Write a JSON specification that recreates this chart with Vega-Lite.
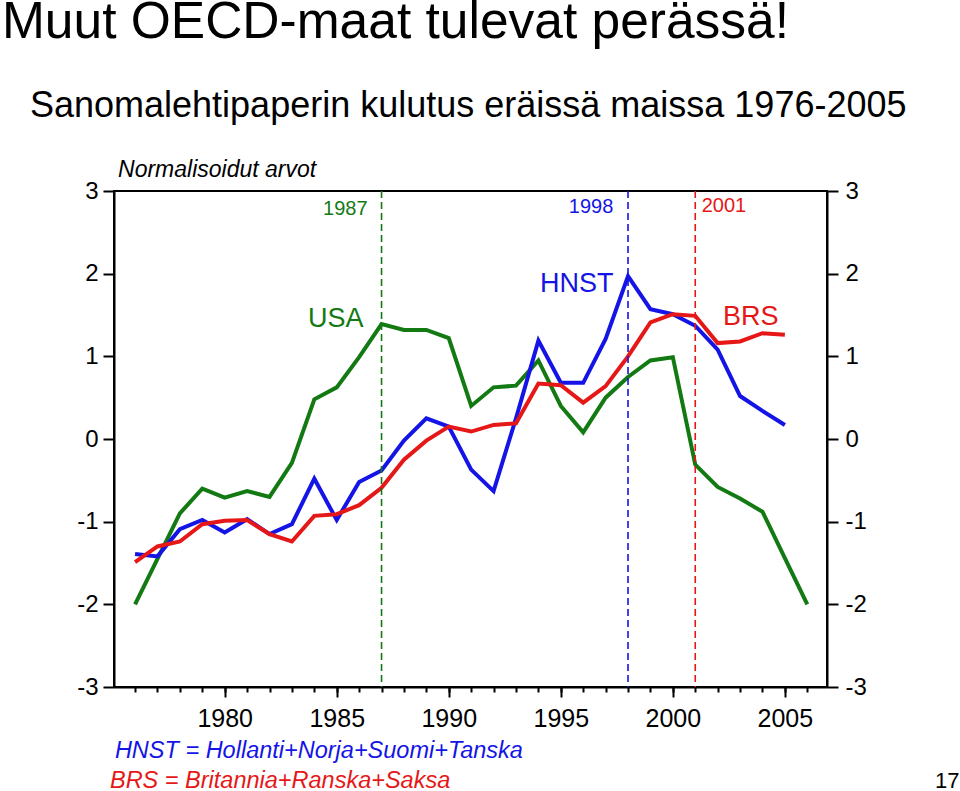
{
  "$schema": "https://vega.github.io/schema/vega-lite/v6.json",
  "width": 713,
  "height": 496,
  "autosize": {"type": "none"},
  "padding": {"left": 114, "top": 191, "right": 133, "bottom": 104},
  "background": "white",
  "config": {
    "view": {"stroke": "black", "strokeWidth": 2},
    "font": "Liberation Sans",
    "axis": {"grid": false, "domainColor": "black", "domainWidth": 2, "tickColor": "black", "tickWidth": 2, "labelColor": "black", "labelFont": "Liberation Sans", "title": null}
  },
  "datasets": {
    "series": [
      {"series": "USA", "year": 1976, "value": -2.0}, {"series": "USA", "year": 1977, "value": -1.45}, {"series": "USA", "year": 1978, "value": -0.9}, {"series": "USA", "year": 1979, "value": -0.6}, {"series": "USA", "year": 1980, "value": -0.71}, {"series": "USA", "year": 1981, "value": -0.63}, {"series": "USA", "year": 1982, "value": -0.7}, {"series": "USA", "year": 1983, "value": -0.29}, {"series": "USA", "year": 1984, "value": 0.48}, {"series": "USA", "year": 1985, "value": 0.625}, {"series": "USA", "year": 1986, "value": 0.99}, {"series": "USA", "year": 1987, "value": 1.39}, {"series": "USA", "year": 1988, "value": 1.32}, {"series": "USA", "year": 1989, "value": 1.32}, {"series": "USA", "year": 1990, "value": 1.22}, {"series": "USA", "year": 1991, "value": 0.4}, {"series": "USA", "year": 1992, "value": 0.625}, {"series": "USA", "year": 1993, "value": 0.645}, {"series": "USA", "year": 1994, "value": 0.95}, {"series": "USA", "year": 1995, "value": 0.4}, {"series": "USA", "year": 1996, "value": 0.08}, {"series": "USA", "year": 1997, "value": 0.5}, {"series": "USA", "year": 1998, "value": 0.75}, {"series": "USA", "year": 1999, "value": 0.95}, {"series": "USA", "year": 2000, "value": 0.99}, {"series": "USA", "year": 2001, "value": -0.31}, {"series": "USA", "year": 2002, "value": -0.58}, {"series": "USA", "year": 2003, "value": -0.72}, {"series": "USA", "year": 2004, "value": -0.88}, {"series": "USA", "year": 2005, "value": -1.44}, {"series": "USA", "year": 2006, "value": -2.0},
      {"series": "HNST", "year": 1976, "value": -1.39}, {"series": "HNST", "year": 1977, "value": -1.42}, {"series": "HNST", "year": 1978, "value": -1.09}, {"series": "HNST", "year": 1979, "value": -0.98}, {"series": "HNST", "year": 1980, "value": -1.13}, {"series": "HNST", "year": 1981, "value": -0.97}, {"series": "HNST", "year": 1982, "value": -1.15}, {"series": "HNST", "year": 1983, "value": -1.03}, {"series": "HNST", "year": 1984, "value": -0.48}, {"series": "HNST", "year": 1985, "value": -0.98}, {"series": "HNST", "year": 1986, "value": -0.52}, {"series": "HNST", "year": 1987, "value": -0.38}, {"series": "HNST", "year": 1988, "value": -0.02}, {"series": "HNST", "year": 1989, "value": 0.25}, {"series": "HNST", "year": 1990, "value": 0.15}, {"series": "HNST", "year": 1991, "value": -0.37}, {"series": "HNST", "year": 1992, "value": -0.63}, {"series": "HNST", "year": 1993, "value": 0.25}, {"series": "HNST", "year": 1994, "value": 1.19}, {"series": "HNST", "year": 1995, "value": 0.68}, {"series": "HNST", "year": 1996, "value": 0.68}, {"series": "HNST", "year": 1997, "value": 1.21}, {"series": "HNST", "year": 1998, "value": 1.97}, {"series": "HNST", "year": 1999, "value": 1.57}, {"series": "HNST", "year": 2000, "value": 1.51}, {"series": "HNST", "year": 2001, "value": 1.37}, {"series": "HNST", "year": 2002, "value": 1.08}, {"series": "HNST", "year": 2003, "value": 0.52}, {"series": "HNST", "year": 2004, "value": 0.34}, {"series": "HNST", "year": 2005, "value": 0.17},
      {"series": "BRS", "year": 1976, "value": -1.49}, {"series": "BRS", "year": 1977, "value": -1.3}, {"series": "BRS", "year": 1978, "value": -1.24}, {"series": "BRS", "year": 1979, "value": -1.03}, {"series": "BRS", "year": 1980, "value": -0.99}, {"series": "BRS", "year": 1981, "value": -0.98}, {"series": "BRS", "year": 1982, "value": -1.15}, {"series": "BRS", "year": 1983, "value": -1.24}, {"series": "BRS", "year": 1984, "value": -0.93}, {"series": "BRS", "year": 1985, "value": -0.91}, {"series": "BRS", "year": 1986, "value": -0.8}, {"series": "BRS", "year": 1987, "value": -0.59}, {"series": "BRS", "year": 1988, "value": -0.25}, {"series": "BRS", "year": 1989, "value": -0.02}, {"series": "BRS", "year": 1990, "value": 0.15}, {"series": "BRS", "year": 1991, "value": 0.09}, {"series": "BRS", "year": 1992, "value": 0.17}, {"series": "BRS", "year": 1993, "value": 0.19}, {"series": "BRS", "year": 1994, "value": 0.67}, {"series": "BRS", "year": 1995, "value": 0.65}, {"series": "BRS", "year": 1996, "value": 0.44}, {"series": "BRS", "year": 1997, "value": 0.64}, {"series": "BRS", "year": 1998, "value": 1.0}, {"series": "BRS", "year": 1999, "value": 1.41}, {"series": "BRS", "year": 2000, "value": 1.51}, {"series": "BRS", "year": 2001, "value": 1.49}, {"series": "BRS", "year": 2002, "value": 1.16}, {"series": "BRS", "year": 2003, "value": 1.18}, {"series": "BRS", "year": 2004, "value": 1.28}, {"series": "BRS", "year": 2005, "value": 1.26}
    ],
    "vlines": [
      {"series": "USA", "year": 1987},
      {"series": "HNST", "year": 1998},
      {"series": "BRS", "year": 2001}
    ],
    "serieslabels": [
      {"series": "USA", "year": 1983.72, "value": 1.351, "text": "USA"},
      {"series": "HNST", "year": 1994.07, "value": 1.775, "text": "HNST"},
      {"series": "BRS", "year": 2002.24, "value": 1.375, "text": "BRS"}
    ],
    "yearlabels": [
      {"series": "USA", "year": 1984.39, "value": 2.706, "text": "1987"},
      {"series": "HNST", "year": 1995.36, "value": 2.73, "text": "1998"},
      {"series": "BRS", "year": 2001.29, "value": 2.743, "text": "2001"}
    ],
    "maintitle": [{"year": 1970.06, "value": 4.847, "text": "Muut OECD-maat tulevat perässä!"}],
    "subtitle": [{"year": 1971.31, "value": 3.891, "text": "Sanomalehtipaperin kulutus eräissä maissa 1976-2005"}],
    "unitnote": [{"year": 1975.24, "value": 3.166, "text": "Normalisoidut arvot"}],
    "notehnst": [{"year": 1975.1, "value": -3.862, "text": "HNST = Hollanti+Norja+Suomi+Tanska"}],
    "notebrs": [{"year": 1974.88, "value": -4.225, "text": "BRS = Britannia+Ranska+Saksa"}],
    "pagenum": [{"year": 2011.7, "value": -4.225, "text": "17"}]
  },
  "layer": [
    {
      "data": {"name": "series"},
      "mark": {"type": "line", "strokeWidth": 4, "strokeJoin": "miter"},
      "encoding": {
        "x": {"field": "year", "type": "quantitative", "scale": {"domain": [1975.06, 2006.88], "nice": false, "zero": false},
              "axis": {"orient": "bottom", "values": [1980, 1985, 1990, 1995, 2000, 2005], "format": "d", "tickSize": 10, "labelFontSize": 25, "labelPadding": 9, "domain": true}},
        "y": {"field": "value", "type": "quantitative", "scale": {"domain": [-3, 3], "nice": false, "zero": false},
              "axis": {"orient": "left", "values": [-3, -2, -1, 0, 1, 2, 3], "tickSize": 11, "labelFontSize": 24, "labelPadding": 5,
                       "labelExpr": "datum.value < 0 ? '-' + abs(datum.value) : '' + datum.value"}},
        "color": {"field": "series", "type": "nominal", "scale": {"domain": ["USA", "HNST", "BRS"], "range": ["#137a13", "#1414e6", "#e61717"]}, "legend": null},
        "detail": {"field": "series"}
      }
    },
    {
      "data": {"name": "vlines"},
      "mark": {"type": "rule", "strokeDash": [7, 4], "strokeWidth": 1.6},
      "encoding": {
        "x": {"field": "year", "type": "quantitative",
              "axis": {"orient": "bottom", "values": [1976, 1977, 1978, 1979, 1980, 1981, 1982, 1983, 1984, 1985, 1986, 1987, 1988, 1989, 1990, 1991, 1992, 1993, 1994, 1995, 1996, 1997, 1998, 1999, 2000, 2001, 2002, 2003, 2004, 2005, 2006], "tickSize": 5, "labels": false, "domain": false}},
        "color": {"field": "series", "type": "nominal", "legend": null}
      }
    },
    {
      "data": {"name": "serieslabels"},
      "mark": {"type": "text", "fontSize": 27, "align": "left", "baseline": "alphabetic"},
      "encoding": {
        "x": {"field": "year", "type": "quantitative", "axis": null},
        "y": {"field": "value", "type": "quantitative",
              "axis": {"orient": "right", "values": [-3, -2, -1, 0, 1, 2, 3], "tickSize": 11, "labelFontSize": 24, "labelPadding": 7,
                       "labelExpr": "datum.value < 0 ? '-' + abs(datum.value) : '' + datum.value"}},
        "text": {"field": "text"},
        "color": {"field": "series", "type": "nominal", "legend": null}
      }
    },
    {
      "data": {"name": "yearlabels"},
      "mark": {"type": "text", "fontSize": 20, "align": "left", "baseline": "alphabetic"},
      "encoding": {
        "x": {"field": "year", "type": "quantitative", "axis": null},
        "y": {"field": "value", "type": "quantitative", "axis": null},
        "text": {"field": "text"},
        "color": {"field": "series", "type": "nominal", "legend": null}
      }
    },
    {
      "data": {"name": "maintitle"},
      "mark": {"type": "text", "fontSize": 51.5, "align": "left", "baseline": "alphabetic", "color": "black"},
      "encoding": {
        "x": {"field": "year", "type": "quantitative", "axis": null},
        "y": {"field": "value", "type": "quantitative", "axis": null},
        "text": {"field": "text"}
      }
    },
    {
      "data": {"name": "subtitle"},
      "mark": {"type": "text", "fontSize": 36, "align": "left", "baseline": "alphabetic", "color": "black"},
      "encoding": {
        "x": {"field": "year", "type": "quantitative", "axis": null},
        "y": {"field": "value", "type": "quantitative", "axis": null},
        "text": {"field": "text"}
      }
    },
    {
      "data": {"name": "unitnote"},
      "mark": {"type": "text", "fontSize": 23, "fontStyle": "italic", "align": "left", "baseline": "alphabetic", "color": "black"},
      "encoding": {
        "x": {"field": "year", "type": "quantitative", "axis": null},
        "y": {"field": "value", "type": "quantitative", "axis": null},
        "text": {"field": "text"}
      }
    },
    {
      "data": {"name": "notehnst"},
      "mark": {"type": "text", "fontSize": 23.5, "fontStyle": "italic", "align": "left", "baseline": "alphabetic", "color": "#1414e6"},
      "encoding": {
        "x": {"field": "year", "type": "quantitative", "axis": null},
        "y": {"field": "value", "type": "quantitative", "axis": null},
        "text": {"field": "text"}
      }
    },
    {
      "data": {"name": "notebrs"},
      "mark": {"type": "text", "fontSize": 23.5, "fontStyle": "italic", "align": "left", "baseline": "alphabetic", "color": "#e61717"},
      "encoding": {
        "x": {"field": "year", "type": "quantitative", "axis": null},
        "y": {"field": "value", "type": "quantitative", "axis": null},
        "text": {"field": "text"}
      }
    },
    {
      "data": {"name": "pagenum"},
      "mark": {"type": "text", "fontSize": 22, "align": "left", "baseline": "alphabetic", "color": "black"},
      "encoding": {
        "x": {"field": "year", "type": "quantitative", "axis": null},
        "y": {"field": "value", "type": "quantitative", "axis": null},
        "text": {"field": "text"}
      }
    }
  ],
  "resolve": {"axis": {"x": "independent", "y": "independent"}}
}
